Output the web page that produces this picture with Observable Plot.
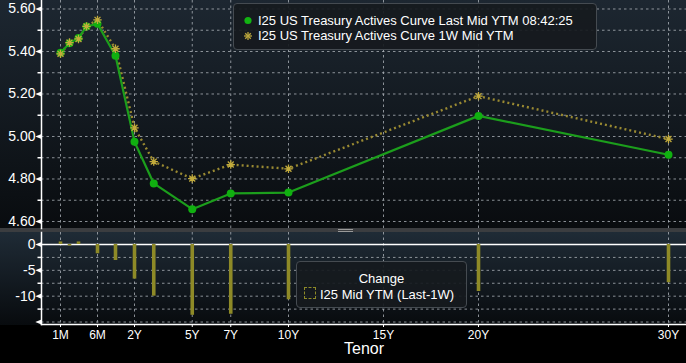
<!DOCTYPE html>
<html><head><meta charset="utf-8">
<script src="https://cdn.jsdelivr.net/npm/d3@7"></script>
<script src="https://cdn.jsdelivr.net/npm/@observablehq/plot@0.6"></script>
<style>
html,body{margin:0;padding:0;background:#000;}
#chart{position:relative;width:686px;height:363px;overflow:hidden;background:#000;font-family:"Liberation Sans",Arial,sans-serif;color:#fff;}
#topbg{position:absolute;left:0;top:0;width:686px;height:228px;background:linear-gradient(#1d2731,#090c0f);}
#sep{position:absolute;left:0;top:228px;width:686px;height:4px;background:#3b3d40;}
#handle{position:absolute;left:338px;top:229px;width:15px;height:0;border-top:1px solid #9a9a9a;}
#handle2{position:absolute;left:338px;top:231px;width:15px;height:0;border-top:1px solid #9a9a9a;}
#botbg{position:absolute;left:0;top:232px;width:686px;height:93px;background:linear-gradient(#1f2b36,#080b0e);}
#top{position:absolute;left:0;top:0;}
#bot{position:absolute;left:0;top:232px;}
.box{position:absolute;border:1px solid #454b51;border-radius:4px;background:rgba(22,26,30,0.92);box-sizing:border-box;}
.lt{position:absolute;font-size:13px;line-height:15px;white-space:nowrap;color:#fff;}
</style>
</head><body>
<div id="chart">
  <div id="topbg"></div>
  <div id="botbg"></div>
  <div id="sep"></div><div id="handle"></div><div id="handle2"></div>
  <div id="top"></div>
  <div id="bot"></div>
  <div class="box" style="left:233px;top:3px;width:364px;height:47px;"></div>
  <svg style="position:absolute;left:240px;top:12px" width="16" height="32">
    <circle cx="8" cy="8.5" r="3.6" fill="#12b312"/>
    <g stroke="#b9a43c" stroke-width="1.3" transform="translate(8,24)">
      <line x1="-4" y1="0" x2="4" y2="0"/><line x1="0" y1="-4" x2="0" y2="4"/>
      <line x1="-2.8" y1="-2.8" x2="2.8" y2="2.8"/><line x1="-2.8" y1="2.8" x2="2.8" y2="-2.8"/>
    </g>
  </svg>
  <div class="lt" id="leg1" style="left:258px;top:13px;"></div>
  <div class="lt" id="leg2" style="left:258px;top:28px;"></div>
  <div class="box" style="left:296px;top:261px;width:171px;height:47px;"></div>
  <div class="lt" id="leg3" style="left:296px;width:171px;text-align:center;top:271px;"></div>
  <div style="position:absolute;left:304px;top:287px;width:10px;height:10px;border:1px dashed #8d8a28;"></div>
  <div class="lt" id="leg4" style="left:320px;top:287px;"></div>
</div>
<script>
// ---- data ----
const tenorLabels = ["1M","2M","3M","4M","6M","1Y","2Y","3Y","5Y","7Y","10Y","20Y","30Y"];
const tenorYears  = [1/12, 2/12, 3/12, 4/12, 6/12, 1, 2, 3, 5, 7, 10, 20, 30];
const lastYtm     = [5.394, 5.439, 5.464, 5.518, 5.530, 5.380, 4.975, 4.779, 4.658, 4.732, 4.736, 5.097, 4.914];
const weekAgoYtm  = [5.389, 5.442, 5.459, 5.518, 5.549, 5.413, 5.041, 4.882, 4.802, 4.868, 4.848, 5.190, 4.988];
const changeBp    = [0.5, -0.3, 0.5, 0, -1.8, -3.1, -6.7, -10.0, -13.7, -13.5, -10.7, -9.1, -7.4];
const xTickYears  = [1/12, 0.5, 2, 5, 7, 10, 15, 20, 30];
const xTickLabels = ["1M","6M","2Y","5Y","7Y","10Y","15Y","20Y","30Y"];
const yMajorTop   = [4.6, 4.8, 5.0, 5.2, 5.4, 5.6];
const yMinorTop   = [4.7, 4.9, 5.1, 5.3, 5.5];
const yMajorBot   = [0, -5, -10, -15];
const yMinorBot   = [-2.5, -7.5, -12.5];
const legendLast  = "I25 US Treasury Actives Curve Last Mid YTM 08:42:25";
const legend1W    = "I25 US Treasury Actives Curve 1W Mid YTM";
const legendChgTitle = "Change";
const legendChg   = "I25 Mid YTM (Last-1W)";
const axisTitle   = "Tenor";

// tenor axis (piecewise, Bloomberg-style spacing)
const tenorKnots = [1/12, 2/12, 3/12, 4/12, 6/12, 1, 2, 10, 30];
const tenorPx    = [60, 69, 78, 86, 97, 115, 134, 288, 668];

document.getElementById("leg1").textContent = legendLast;
document.getElementById("leg2").textContent = legend1W;
document.getElementById("leg3").textContent = legendChgTitle;
document.getElementById("leg4").textContent = legendChg;

const last = tenorYears.map((t,i)=>({t, v: lastYtm[i], label: tenorLabels[i]}));
const week = tenorYears.map((t,i)=>({t, v: weekAgoYtm[i], label: tenorLabels[i]}));
const chg  = tenorYears.map((t,i)=>({t, v: changeBp[i], label: tenorLabels[i]}));

const star = {draw(ctx, size){ const r = Math.sqrt(size/Math.PI), d = r*Math.SQRT1_2;
  ctx.moveTo(-r,0);ctx.lineTo(r,0);ctx.moveTo(0,-r);ctx.lineTo(0,r);
  ctx.moveTo(-d,-d);ctx.lineTo(d,d);ctx.moveTo(-d,d);ctx.lineTo(d,-d);}};
const tri = {draw(ctx){ctx.moveTo(-3.2,0);ctx.lineTo(3,-2.6);ctx.lineTo(3,2.6);ctx.closePath();}};
const dash = {draw(ctx){ctx.moveTo(-2,0);ctx.lineTo(2,0);}};

const grid = {stroke: "#aab0b6", strokeDasharray: "2.5,3", strokeWidth: 1, strokeOpacity: 0.8};
const xScale = {type: "linear", domain: tenorKnots, range: tenorPx, axis: null};
const font = "'Liberation Sans', Arial, sans-serif";

const topPlot = Plot.plot({
  width: 686, height: 228, marginLeft: 41, marginRight: 0, marginTop: 0, marginBottom: 0,
  style: {background: "transparent", fontFamily: font, color: "white", overflow: "visible"},
  x: xScale,
  y: {domain: [4.567, 5.64], axis: null},
  marks: [
    Plot.ruleY([...yMajorTop, ...yMinorTop], grid),
    Plot.ruleX(xTickYears, grid),
    Plot.frame({anchor: "left", stroke: "white", strokeWidth: 1.5}),
    Plot.axisY(yMajorTop, {tickSize: 0, tickPadding: 6, tickFormat: d3.format(".2f"), fontSize: 14, fill: "white", label: null}),
    Plot.dot(yMajorTop, {y: d=>d, frameAnchor: "left", dx: -3, symbol: tri, fill: "white", stroke: "none", r: 3}),
    Plot.dot(yMinorTop, {y: d=>d, frameAnchor: "left", dx: -2, symbol: dash, stroke: "white", fill: "none", r: 2}),
    Plot.line(week, {x: "t", y: "v", stroke: "#9a8a32", strokeWidth: 2.4, strokeDasharray: "2,3", strokeLinecap: "butt"}),
    Plot.line(last, {x: "t", y: "v", stroke: "#1c9e1c", strokeWidth: 2.2}),
    Plot.dot(last, {x: "t", y: "v", r: 4, fill: "#10b010", stroke: "none"}),
    Plot.dot(week, {x: "t", y: "v", r: 4.2, symbol: star, stroke: "#c2ab3c", strokeWidth: 1.3, fill: "none"})
  ]
});
document.getElementById("top").appendChild(topPlot);

const botPlot = Plot.plot({
  width: 686, height: 131, marginLeft: 41, marginRight: 0, marginTop: 0, marginBottom: 39,
  style: {background: "transparent", fontFamily: font, color: "white", overflow: "visible"},
  x: xScale,
  y: {domain: [-15.48, 2.32], axis: null},
  marks: [
    Plot.ruleY([-15, -12.5, -10, -7.5, -5, -2.5], grid),
    Plot.ruleX(xTickYears, grid),
    Plot.ruleY([0], {stroke: "white", strokeWidth: 1.5}),
    Plot.frame({anchor: "left", stroke: "white", strokeWidth: 1.5}),
    Plot.frame({anchor: "bottom", stroke: "white", strokeWidth: 1.5}),
    Plot.axisY(yMajorBot.slice(0, 3), {tickSize: 0, tickPadding: 6, tickFormat: d => String(d), fontSize: 14, fill: "white", label: null}),
    Plot.dot(yMajorBot, {y: d=>d, frameAnchor: "left", dx: -3, symbol: tri, fill: "white", stroke: "none", r: 3}),
    Plot.dot(yMinorBot, {y: d=>d, frameAnchor: "left", dx: -2, symbol: dash, stroke: "white", fill: "none", r: 2}),
    Plot.ruleX(chg, {x: "t", y1: 0, y2: "v", stroke: "#8e8a27", strokeWidth: 3.6}),
    Plot.axisX(xTickYears, {tickSize: 3, tickPadding: 3, tickFormat: (d, i) => xTickLabels[i], fontSize: 12, fill: "white", stroke: "white", label: null}),
    Plot.text([axisTitle], {frameAnchor: "bottom", dy: 29, fontSize: 16, fill: "white"})
  ]
});
document.getElementById("bot").appendChild(botPlot);
</script>
</body></html>
